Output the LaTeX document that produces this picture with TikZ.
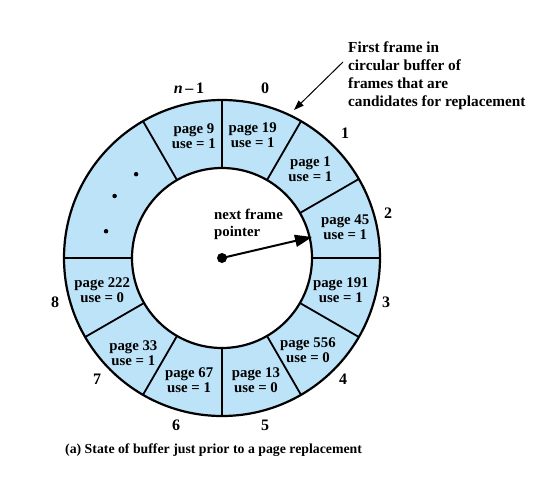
\documentclass[tikz,border=0pt]{standalone}
\usepackage{fontspec}
\setmainfont{Liberation Serif}
\usetikzlibrary{arrows.meta}
\definecolor{ringblue}{HTML}{BDE3F8}
\tikzset{
  seg/.style={font=\fontsize{14.8}{15}\selectfont\bfseries, align=center, inner sep=0pt},
  num/.style={font=\fontsize{16}{16}\selectfont\bfseries, inner sep=0pt},
  ring/.style={line width=2.2pt},
  divider/.style={line width=1.8pt},
  edot/.style={circle, fill=black, inner sep=0pt, minimum size=4.5pt},
}
\begin{document}
\begin{tikzpicture}[x=1pt,y=1pt]
\useasboundingbox (0,0) rectangle (536,-485);
\coordinate (c) at (222,-258);
% ring fill
\fill[ringblue, even odd rule] (c) circle (158) (c) circle (90);
% dividers
\foreach \a in {0,30,60,90,120,180,210,240,270,300,330}
  \draw[divider] ([shift={(\a:90)}]c) -- ([shift={(\a:158)}]c);
\draw[ring] (c) circle (158);
\draw[ring] (c) circle (90);
% segment texts
\node[seg] (s0)  at ([shift={(76:127)}]c)   {page 19\\use = 1};
\node[seg] (s1)  at ([shift={(45:125)}]c)   {page 1\\use = 1};
\node[seg] (s2)  at ([shift={(14:127)}]c)   {page 45\\use = 1};
\node[seg] (s3)  at ([shift={(-15:123)}]c)  {page 191\\use = 1};
\node[seg] (s4)  at ([shift={(-47:126)}]c)  {page 556\\use = 0};
\node[seg] (s5)  at ([shift={(-74.5:127)}]c) {page 13\\use = 0};
\node[seg] (s6)  at ([shift={(-105:127)}]c) {page 67\\use = 1};
\node[seg] (s7)  at ([shift={(-133:130)}]c) {page 33\\use = 1};
\node[seg] (s8)  at ([shift={(-165:124)}]c) {page 222\\use = 0};
\node[seg] (sn)  at ([shift={(103:125)}]c)  {page 9\\use = 1};
% ellipsis dots
\node[edot] (d1) at ([shift={(135.7:120)}]c) {};
\node[edot] (d2) at ([shift={(150:124)}]c) {};
\node[edot] (d3) at ([shift={(167:119)}]c) {};
% frame numbers
\node[num] (nn) at (189,-88) {\textit{n}\,–\,1};
\node[num] (n0) at (265,-88) {0};
\node[num] (n1) at (345,-133) {1};
\node[num] (n2) at (388,-213) {2};
\node[num] (n3) at (386,-302) {3};
\node[num] (n4) at (343,-379) {4};
\node[num] (n5) at (265,-425) {5};
\node[num] (n6) at (176,-425) {6};
\node[num] (n7) at (97,-379) {7};
\node[num] (n8) at (55,-302) {8};
% pointer
\node[circle, fill=black, inner sep=0pt, minimum size=10pt] (ctr) at (c) {};
\coordinate (tip) at (312,-237);
\draw[line width=2pt, -{Triangle[length=17pt,width=12pt]}] (ctr.center) -- (tip);
\node[seg, align=left, anchor=north west, font=\fontsize{14.8}{17}\selectfont\bfseries] (ptr) at (214,-209) {next frame\\pointer};
% annotation
\node[align=left, anchor=north west, inner sep=0pt, font=\fontsize{15.3}{18}\selectfont\bfseries] (ann) at (348,-42) {First frame in\\circular buffer of\\frames that are\\candidates for replacement};
\coordinate (annend) at (343,-62);
\coordinate (anntip) at (294,-110);
\draw[line width=1pt, -{Triangle[length=10pt,width=7pt]}] (annend) -- (anntip);
% caption
\node[anchor=west, inner sep=0pt, font=\fontsize{13.8}{15}\selectfont\bfseries] (cap) at (65,-450) {(a) State of buffer just prior to a page replacement};
\end{tikzpicture}
\end{document}
